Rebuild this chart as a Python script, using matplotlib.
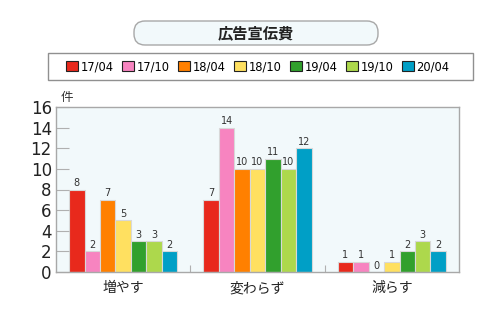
import matplotlib.pyplot as plt
from matplotlib.patches import FancyBboxPatch, Rectangle
import numpy as np

plt.rcParams['font.family'] = ['Noto Sans CJK JP', 'DejaVu Sans']

# data
title = '広告宣伝費'
categories = ['増やす', '変わらず', '減らす']
periods = ['17/04', '17/10', '18/04', '18/10', '19/04', '19/10', '20/04']
v_1704 = [8, 7, 1]
v_1710 = [2, 14, 1]
v_1804 = [7, 10, 0]
v_1810 = [5, 10, 1]
v_1904 = [3, 11, 2]
v_1910 = [3, 10, 3]
v_2004 = [2, 12, 2]
series = [v_1704, v_1710, v_1804, v_1810, v_1904, v_1910, v_2004]
colors = ['#E8291C', '#F784C0', '#FF8000', '#FFE060', '#31A02D', '#ADD84C', '#009FC6']
y_ticks = [0, 2, 4, 6, 8, 10, 12, 14, 16]

W, H = 496, 311
fig = plt.figure(figsize=(W / 100, H / 100), dpi=100)

# overlay in pixel coordinates for the title box and legend frame
deco = fig.add_axes([0, 0, 1, 1])
deco.set_xlim(0, W)
deco.set_ylim(H, 0)
deco.axis('off')
deco.add_patch(FancyBboxPatch((134, 21), 244, 24, boxstyle='round,pad=0,rounding_size=11',
                              facecolor='#F2F9FB', edgecolor='#A8A8A8', linewidth=1))
deco.text(256, 33.5, title, ha='center', va='center', fontsize=11, fontweight='bold', color='#222222')
deco.add_patch(Rectangle((48, 53), 425, 27, facecolor='white', edgecolor='#909090', linewidth=1))

# main plot
left, right, top, bottom = 56, 459, 107, 272
ax = fig.add_axes([left / W, (H - bottom) / H, (right - left) / W, (bottom - top) / H])
ax.set_facecolor('#F2F9FB')

x = np.arange(len(categories))
bw = 0.115
for i, (vals, c, lab) in enumerate(zip(series, colors, periods)):
    bars = ax.bar(x + (i - 3) * bw, vals, bw, color=c, edgecolor='#D8D8D8', linewidth=0.8, label=lab)
    ax.bar_label(bars, padding=1, fontsize=7, color='#333333', family='DejaVu Sans')

ax.set_xlim(-0.5, 2.5)
ax.set_ylim(0, 16)
ax.set_yticks(y_ticks)
ax.set_yticklabels([str(t) for t in y_ticks], fontsize=12, color='#222222', family='DejaVu Sans')
ax.tick_params(axis='y', direction='in', length=9, color='#B0B0B0', pad=3)
ax.set_xticks([0.5, 1.5])
ax.set_xticklabels([])
ax.tick_params(axis='x', direction='in', length=5, color='#B0B0B0')
for k, name in enumerate(categories):
    ax.text(k, -0.9, name, ha='center', va='top', fontsize=10, color='#222222')
for s in ax.spines.values():
    s.set_color('#A8A8A8')
    s.set_linewidth(1)
ax.text(0.012, 1.02, '件', transform=ax.transAxes, fontsize=9, color='#333333', va='bottom')

leg = fig.legend(loc='center', bbox_to_anchor=(258 / W, 1 - 66.5 / H), ncol=7, frameon=False,
                 prop={'family': 'DejaVu Sans', 'size': 8.3},
                 handlelength=1.0, handleheight=1.0, handletextpad=0.25, columnspacing=0.75)
for h in leg.legend_handles:
    h.set_edgecolor('#222222')
    h.set_linewidth(0.8)

fig.savefig('out.png', dpi=100)
